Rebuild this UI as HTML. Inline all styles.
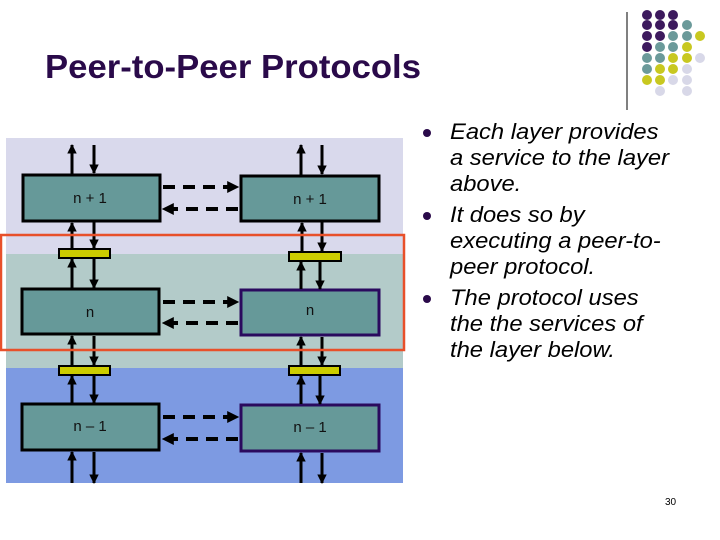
<!DOCTYPE html>
<html><head><meta charset="utf-8"><style>
html,body{margin:0;padding:0;background:#fff;width:720px;height:540px;overflow:hidden}
svg{display:block}
</style></head><body>
<svg width="720" height="540" viewBox="0 0 720 540" xmlns="http://www.w3.org/2000/svg">
<defs>
<marker id="ah" viewBox="0 0 10 10" refX="9" refY="5" markerWidth="3.2" markerHeight="3.2" orient="auto" markerUnits="strokeWidth"><path d="M0,0 L10,5 L0,10 z" fill="#000"/></marker>
<marker id="dh" viewBox="0 0 10 10" refX="9" refY="5" markerWidth="3" markerHeight="3" orient="auto" markerUnits="strokeWidth"><path d="M0,0 L10,5 L0,10 z" fill="#000"/></marker>
</defs>
<text x="45" y="78" font-family="Liberation Sans, sans-serif" font-weight="bold" font-size="33" fill="#2a0a4a" textLength="376" lengthAdjust="spacingAndGlyphs">Peer-to-Peer Protocols</text>
<line x1="627" y1="12" x2="627" y2="110" stroke="#000" stroke-width="1"/>
<g>
<circle cx="647" cy="15" r="5" fill="#3d1a5e"/><circle cx="660" cy="15" r="5" fill="#3d1a5e"/><circle cx="673" cy="15" r="5" fill="#3d1a5e"/>
<circle cx="647" cy="25" r="5" fill="#3d1a5e"/><circle cx="660" cy="25" r="5" fill="#3d1a5e"/><circle cx="673" cy="25" r="5" fill="#3d1a5e"/><circle cx="687" cy="25" r="5" fill="#6b9a9a"/>
<circle cx="647" cy="36" r="5" fill="#3d1a5e"/><circle cx="660" cy="36" r="5" fill="#3d1a5e"/><circle cx="673" cy="36" r="5" fill="#6b9a9a"/><circle cx="687" cy="36" r="5" fill="#6b9a9a"/><circle cx="700" cy="36" r="5" fill="#c8c820"/>
<circle cx="647" cy="47" r="5" fill="#3d1a5e"/><circle cx="660" cy="47" r="5" fill="#6b9a9a"/><circle cx="673" cy="47" r="5" fill="#6b9a9a"/><circle cx="687" cy="47" r="5" fill="#c8c820"/>
<circle cx="647" cy="58" r="5" fill="#6b9a9a"/><circle cx="660" cy="58" r="5" fill="#6b9a9a"/><circle cx="673" cy="58" r="5" fill="#c8c820"/><circle cx="687" cy="58" r="5" fill="#c8c820"/><circle cx="700" cy="58" r="5" fill="#d8d8e8"/>
<circle cx="647" cy="69" r="5" fill="#6b9a9a"/><circle cx="660" cy="69" r="5" fill="#c8c820"/><circle cx="673" cy="69" r="5" fill="#c8c820"/><circle cx="687" cy="69" r="5" fill="#d8d8e8"/>
<circle cx="647" cy="80" r="5" fill="#c8c820"/><circle cx="660" cy="80" r="5" fill="#c8c820"/><circle cx="673" cy="80" r="5" fill="#d8d8e8"/><circle cx="687" cy="80" r="5" fill="#d8d8e8"/>
<circle cx="660" cy="91" r="5" fill="#d8d8e8"/><circle cx="687" cy="91" r="5" fill="#d8d8e8"/>
</g>
<rect x="6" y="138" width="397" height="116" fill="#d9d9ec"/>
<rect x="6" y="254" width="397" height="114" fill="#b3cbc9"/>
<rect x="6" y="368" width="397" height="115" fill="#7d9ae2"/>
<g fill="#669999" stroke-width="3">
<rect x="23" y="175" width="137" height="46" stroke="#000"/>
<rect x="241" y="176" width="138" height="45" stroke="#000"/>
<rect x="22" y="289" width="137" height="45" stroke="#000"/>
<rect x="241" y="290" width="138" height="45" stroke="#2a0a5e"/>
<rect x="22" y="404" width="137" height="46" stroke="#000"/>
<rect x="241" y="405" width="138" height="46" stroke="#2a0a5e"/>
</g>
<g fill="#cccc00" stroke="#000" stroke-width="2">
<rect x="59" y="249" width="51" height="9"/><rect x="289" y="252" width="52" height="9"/>
<rect x="59" y="366" width="51" height="9"/><rect x="289" y="366" width="51" height="9"/>
</g>
<g stroke="#000" stroke-width="3" marker-end="url(#ah)">
<line x1="72" y1="174" x2="72" y2="145"/><line x1="94" y1="145" x2="94" y2="173"/>
<line x1="72" y1="248" x2="72" y2="223"/><line x1="94" y1="222" x2="94" y2="248"/>
<line x1="72" y1="288" x2="72" y2="259"/><line x1="94" y1="259" x2="94" y2="288"/>
<line x1="72" y1="365" x2="72" y2="336"/><line x1="94" y1="336" x2="94" y2="365"/>
<line x1="72" y1="403" x2="72" y2="376"/><line x1="94" y1="376" x2="94" y2="403"/>
<line x1="72" y1="483" x2="72" y2="452"/><line x1="94" y1="452" x2="94" y2="483"/>
<line x1="301" y1="175" x2="301" y2="145"/><line x1="322" y1="145" x2="322" y2="174"/>
<line x1="302" y1="251" x2="302" y2="223"/><line x1="322" y1="222" x2="322" y2="251"/>
<line x1="301" y1="289" x2="301" y2="262"/><line x1="320" y1="262" x2="320" y2="289"/>
<line x1="301" y1="365" x2="301" y2="337"/><line x1="322" y1="337" x2="322" y2="365"/>
<line x1="301" y1="404" x2="301" y2="376"/><line x1="320" y1="376" x2="320" y2="404"/>
<line x1="301" y1="483" x2="301" y2="453"/><line x1="322" y1="453" x2="322" y2="483"/>
</g>
<g stroke="#000" stroke-width="4" stroke-dasharray="12,8" marker-end="url(#dh)">
<line x1="163" y1="187" x2="238" y2="187"/><line x1="238" y1="209" x2="163" y2="209"/>
<line x1="163" y1="302" x2="238" y2="302"/><line x1="238" y1="323" x2="163" y2="323"/>
<line x1="163" y1="417" x2="238" y2="417"/><line x1="238" y1="439" x2="163" y2="439"/>
</g>
<g font-family="Liberation Sans, sans-serif" font-size="15" fill="#111" text-anchor="middle">
<text x="90" y="203">n + 1</text><text x="310" y="204">n + 1</text>
<text x="90" y="317">n</text><text x="310" y="315">n</text>
<text x="90" y="431">n – 1</text><text x="310" y="432">n – 1</text>
</g>
<rect x="1" y="235" width="403" height="115" fill="none" stroke="#e8502a" stroke-width="2.5"/>
<g fill="#2a0a4a"><circle cx="427" cy="133" r="4"/><circle cx="427" cy="216" r="4"/><circle cx="427" cy="299" r="4"/></g>
<g font-family="Liberation Sans, sans-serif" font-style="italic" font-size="22" fill="#000" transform="translate(450,0) scale(1.08,1) translate(-450,0)">
<text x="450" y="139">Each layer provides</text>
<text x="450" y="165">a service to the layer</text>
<text x="450" y="191">above.</text>
<text x="450" y="222">It does so by</text>
<text x="450" y="248">executing a peer-to-</text>
<text x="450" y="274">peer protocol.</text>
<text x="450" y="305">The protocol uses</text>
<text x="450" y="331">the the services of</text>
<text x="450" y="357">the layer below.</text>
</g>
<text x="665" y="505" font-family="Liberation Sans, sans-serif" font-size="10" fill="#000">30</text>
</svg>
</body></html>
